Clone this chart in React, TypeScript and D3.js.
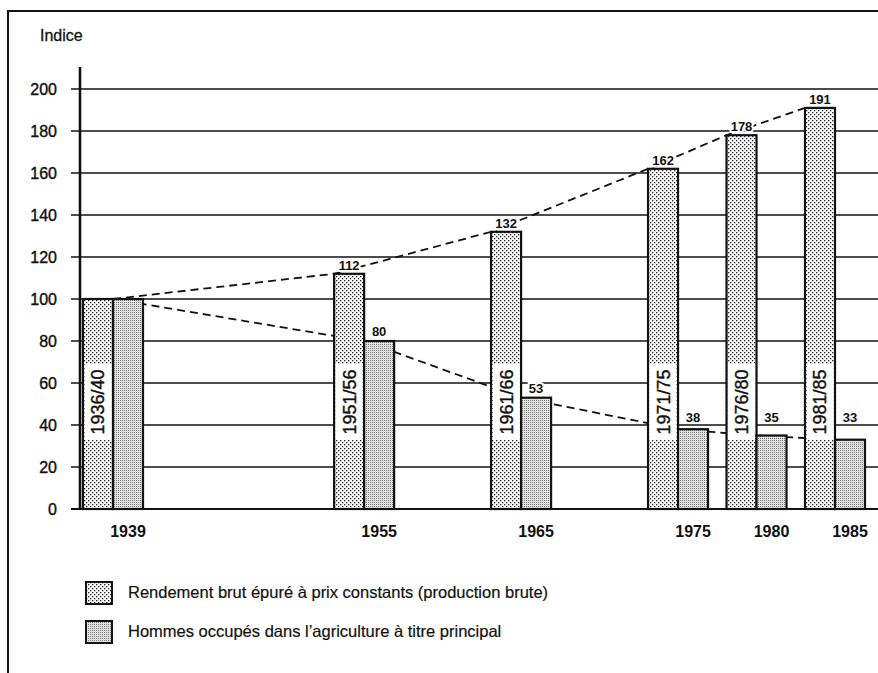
import { useEffect, useRef } from "react";
import * as d3 from "d3";

const years = [1939, 1955, 1965, 1975, 1980, 1985];
const periods = ["1936/40", "1951/56", "1961/66", "1971/75", "1976/80", "1981/85"];
const rendement = [100, 112, 132, 162, 178, 191];
const hommes = [100, 80, 53, 38, 35, 33];
const yTicks = [0, 20, 40, 60, 80, 100, 120, 140, 160, 180, 200];
const legendLabels = [
  "Rendement brut épuré à prix constants (production brute)",
  "Hommes occupés dans l’agriculture à titre principal",
];

const W = 878;
const H = 673;
const FONT = "'Liberation Sans', Arial, Helvetica, sans-serif";

const App = () => {
  const svgRef = useRef<SVGSVGElement>(null);

  useEffect(() => {
    if (!svgRef.current) return;
    const svg = d3.select(svgRef.current);
    svg.selectAll("*").remove();

    const x = d3.scaleLinear().domain([1939, 1985]).range([128, 850]);
    const y = d3.scaleLinear().domain([0, 200]).range([509, 89]);
    const barW = 30;

    // patterns
    const defs = svg.append("defs");
    const dots = defs
      .append("pattern")
      .attr("id", "dots")
      .attr("patternUnits", "userSpaceOnUse")
      .attr("width", 4)
      .attr("height", 4);
    dots.append("rect").attr("width", 4).attr("height", 4).attr("fill", "#fff");
    dots.append("rect").attr("x", 0).attr("y", 0).attr("width", 1.3).attr("height", 1.3).attr("fill", "#222");
    dots.append("rect").attr("x", 2).attr("y", 2).attr("width", 1.3).attr("height", 1.3).attr("fill", "#222");

    const grey = defs
      .append("pattern")
      .attr("id", "grey")
      .attr("patternUnits", "userSpaceOnUse")
      .attr("width", 2)
      .attr("height", 2);
    grey.append("rect").attr("width", 2).attr("height", 2).attr("fill", "#e2e2e2");
    grey.append("rect").attr("width", 1).attr("height", 1).attr("fill", "#7a7a7a");

    svg.append("rect").attr("width", W).attr("height", H).attr("fill", "#fff");

    // frame
    svg
      .append("path")
      .attr("d", `M8,${H} L8,11 L${W},11`)
      .attr("fill", "none")
      .attr("stroke", "#111")
      .attr("stroke-width", 2);

    svg
      .append("text")
      .attr("x", 40)
      .attr("y", 41)
      .attr("font-family", FONT)
      .attr("font-size", 16)
      .attr("fill", "#111")
      .attr("stroke", "#111")
      .attr("stroke-width", 0.3)
      .text("Indice");

    // gridlines + ticks
    const grid = svg.append("g");
    yTicks.forEach((t) => {
      grid
        .append("line")
        .attr("x1", 71)
        .attr("x2", W)
        .attr("y1", y(t))
        .attr("y2", y(t))
        .attr("stroke", "#111")
        .attr("stroke-width", t === 0 ? 2.2 : 1.4);
      grid
        .append("text")
        .attr("x", 57)
        .attr("y", y(t))
        .attr("dy", "0.35em")
        .attr("text-anchor", "end")
        .attr("font-family", FONT)
        .attr("font-size", 16)
        .attr("fill", "#111")
        .attr("stroke", "#111")
        .attr("stroke-width", 0.4)
        .text(t);
    });

    svg
      .append("line")
      .attr("x1", 80)
      .attr("x2", 80)
      .attr("y1", 67)
      .attr("y2", y(0) + 1)
      .attr("stroke", "#111")
      .attr("stroke-width", 2.6);

    // dashed trend lines
    const upperPts: [number, number][] = rendement.map((v, i) => [
      i === 0 ? x(years[i]) - barW / 2 : x(years[i]) - barW * 1.5,
      y(v),
    ]);
    const lowerPts: [number, number][] = hommes.map((v, i) => [x(years[i]) - barW / 2, y(v)]);
    const line = d3.line();
    [upperPts, lowerPts].forEach((pts) => {
      svg
        .append("path")
        .attr("d", line(pts) as string)
        .attr("fill", "none")
        .attr("stroke", "#111")
        .attr("stroke-width", 1.8)
        .attr("stroke-dasharray", "8,5");
    });

    // bars
    const bars = svg.append("g");
    years.forEach((yr, i) => {
      const cx = x(yr);
      bars
        .append("rect")
        .attr("x", cx - barW * 1.5)
        .attr("y", y(rendement[i]))
        .attr("width", barW)
        .attr("height", y(0) - y(rendement[i]))
        .attr("fill", "url(#dots)")
        .attr("stroke", "#111")
        .attr("stroke-width", 2.2);
      bars
        .append("rect")
        .attr("x", cx - barW / 2)
        .attr("y", y(hommes[i]))
        .attr("width", barW)
        .attr("height", y(0) - y(hommes[i]))
        .attr("fill", "url(#grey)")
        .attr("stroke", "#111")
        .attr("stroke-width", 2.2);

      // period label inside the dotted bar
      const mid = y(51);
      bars
        .append("rect")
        .attr("x", cx - barW * 1.5 + 1.5)
        .attr("y", mid - 38)
        .attr("width", barW - 3)
        .attr("height", 76)
        .attr("fill", "#fff");
      bars
        .append("text")
        .attr("transform", `translate(${cx - barW} ,${mid}) rotate(-90)`)
        .attr("text-anchor", "middle")
        .attr("dy", "0.36em")
        .attr("font-family", FONT)
        .attr("font-size", 18)
        .attr("fill", "#111")
        .attr("stroke", "#111")
        .attr("stroke-width", 0.4)
        .text(periods[i]);

      // year label
      svg
        .append("text")
        .attr("x", cx)
        .attr("y", 537)
        .attr("text-anchor", "middle")
        .attr("font-family", FONT)
        .attr("font-size", 16)
        .attr("font-weight", "bold")
        .attr("fill", "#111")
        .text(yr);

      if (i > 0) {
        const lbl = (tx: number, ty: number, v: number) =>
          svg
            .append("text")
            .attr("x", tx)
            .attr("y", ty)
            .attr("text-anchor", "middle")
            .attr("font-family", FONT)
            .attr("font-size", 13)
            .attr("font-weight", "bold")
            .attr("fill", "#111")
            .attr("stroke", "#fff")
            .attr("stroke-width", 4)
            .attr("paint-order", "stroke")
            .text(v);
        lbl(cx - barW, y(rendement[i]) - 4, rendement[i]);
        lbl(cx, Math.min(y(hommes[i]) - 5, y(40) - 3), hommes[i]);
      }
    });

    // legend
    const leg = svg.append("g");
    legendLabels.forEach((label, i) => {
      const top = i === 0 ? 582 : 621;
      leg
        .append("rect")
        .attr("x", 86)
        .attr("y", top)
        .attr("width", 26)
        .attr("height", 22)
        .attr("fill", i === 0 ? "url(#dots)" : "url(#grey)")
        .attr("stroke", "#111")
        .attr("stroke-width", 2);
      leg
        .append("text")
        .attr("x", 128)
        .attr("y", top + 16)
        .attr("font-family", FONT)
        .attr("font-size", 16.5)
        .attr("fill", "#111")
        .attr("stroke", "#111")
        .attr("stroke-width", 0.2)
        .text(label);
    });
  }, []);

  return (
    <svg
      ref={svgRef}
      width={W}
      height={H}
      style={{ position: "absolute", left: 0, top: 0, display: "block" }}
    ></svg>
  );
};

export default App;
